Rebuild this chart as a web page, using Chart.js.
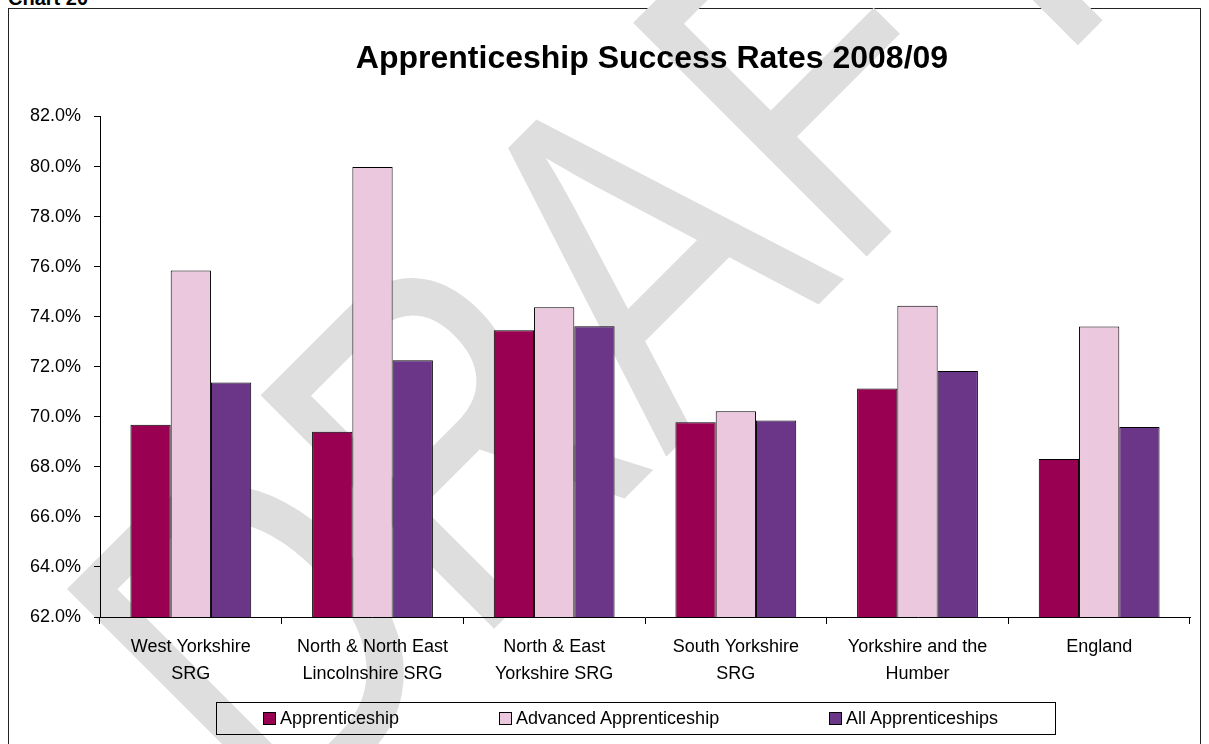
<!DOCTYPE html>
<html lang="en">

<head>
    <meta charset="UTF-8">
    <title>Apprenticeship Success Rates 2008/09</title>
    <script src="https://cdn.jsdelivr.net/npm/chart.js"></script>
    <style>
        body {
            margin: 0;
            width: 1209px;
            height: 744px;
            overflow: hidden;
            background: #fff;
            font-family: "Liberation Sans", Arial, sans-serif;
            position: relative;
        }

        #chartName {
            position: absolute;
            left: 8px;
            top: -13px;
            font-size: 20px;
            font-weight: bold;
            color: #000;
        }

        #frame {
            position: absolute;
            left: 8px;
            top: 8px;
            width: 1193px;
            height: 760px;
            border: 1px solid #222;
            box-sizing: border-box;
        }

        #myChart {
            position: absolute;
            left: 0;
            top: 0;
        }

        #legend {
            position: absolute;
            left: 216px;
            top: 702px;
            width: 840px;
            height: 33px;
            border: 1px solid #000;
            box-sizing: border-box;
        }

        .item {
            position: absolute;
            top: 0;
            height: 31px;
            line-height: 31px;
            font-size: 18px;
            color: #000;
            white-space: nowrap;
        }

        .item span {
            display: inline-block;
            width: 11px;
            height: 11px;
            border: 1px solid #000;
            margin-right: 4px;
            vertical-align: -1px;
        }
    </style>
</head>

<body>
    <div id="chartName">Chart 20</div>
    <div id="frame"></div>
    <canvas id="myChart" width="1209" height="744"></canvas>
    <div id="legend"></div>

    <script>
        // data
        const categories = [
            ['West Yorkshire', 'SRG'],
            ['North & North East', 'Lincolnshire SRG'],
            ['North & East', 'Yorkshire SRG'],
            ['South Yorkshire', 'SRG'],
            ['Yorkshire and the', 'Humber'],
            ['England']
        ];
        const seriesNames = ['Apprenticeship', 'Advanced Apprenticeship', 'All Apprenticeships'];
        const apprenticeship = [69.68, 69.40, 73.46, 69.78, 71.13, 68.31];
        const advanced = [75.85, 79.98, 74.38, 70.22, 74.44, 73.61];
        const allApprenticeships = [71.37, 72.26, 73.62, 69.85, 71.83, 69.59];
        const yMin = 62, yMax = 82, yStep = 2;

        const colours = ['#990052', '#ECC8DF', '#6C3688'];
        const legendLeft = [46, 282, 612];

        const font = '"Liberation Sans", Arial, sans-serif';
        Chart.defaults.color = '#000';
        Chart.defaults.font.family = font;

        // watermark and title, drawn under the bars
        const backdrop = {
            id: 'backdrop',
            beforeDraw(chart) {
                const ctx = chart.ctx;
                ctx.save();
                ctx.translate(278.5, 844.5);
                ctx.rotate(-Math.PI / 4);
                ctx.scale(0.79, 1);
                ctx.fillStyle = '#dedede';
                ctx.font = '480px ' + font;
                ctx.textAlign = 'left';
                ctx.textBaseline = 'alphabetic';
                ctx.fillText('DRAFT', 0, 0);
                ctx.restore();

                ctx.save();
                ctx.fillStyle = '#000';
                ctx.font = 'bold 32px ' + font;
                ctx.textAlign = 'center';
                ctx.fillText('Apprenticeship Success Rates 2008/09', 652, 68);
                ctx.restore();
            }
        };

        const data = [apprenticeship, advanced, allApprenticeships];

        new Chart(document.getElementById('myChart'), {
            type: 'bar',
            data: {
                labels: categories,
                datasets: data.map((d, i) => ({
                    label: seriesNames[i],
                    data: d,
                    backgroundColor: colours[i],
                    borderColor: '#000',
                    borderWidth: 1,
                    categoryPercentage: 0.665,
                    barPercentage: 1
                }))
            },
            options: {
                responsive: false,
                animation: false,
                layout: {
                    padding: { left: 0, top: 116.5, right: 19, bottom: 0 }
                },
                plugins: {
                    legend: { display: false },
                    title: { display: false },
                    tooltip: { enabled: false }
                },
                scales: {
                    x: {
                        afterFit: s => { s.height = 127; },
                        grid: { drawOnChartArea: false, offset: true, tickLength: 7, color: '#000' },
                        border: { color: '#000' },
                        ticks: { font: { size: 18, lineHeight: 1.5 }, padding: 9.5, maxRotation: 0, autoSkip: false }
                    },
                    y: {
                        min: yMin,
                        max: yMax,
                        afterFit: s => { s.width = 100; },
                        grid: { drawOnChartArea: false, tickLength: 6, color: '#000' },
                        border: { color: '#000' },
                        ticks: {
                            stepSize: yStep,
                            padding: 13,
                            font: { size: 18 },
                            callback: v => v.toFixed(1) + '%'
                        }
                    }
                }
            },
            plugins: [backdrop]
        });

        const legend = document.getElementById('legend');
        seriesNames.forEach((name, i) => {
            const item = document.createElement('div');
            item.className = 'item';
            item.style.left = legendLeft[i] + 'px';
            item.innerHTML = '<span style="background:' + colours[i] + '"></span>' + name;
            legend.appendChild(item);
        });
    </script>
</body>

</html>
